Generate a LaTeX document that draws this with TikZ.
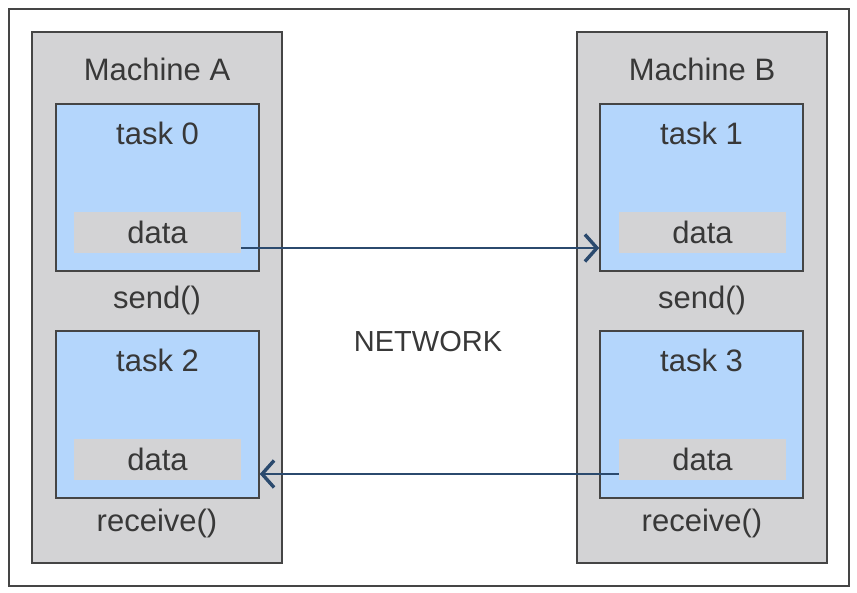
\documentclass[tikz,border=0pt]{standalone}
\usepackage{fontspec}
\setmainfont{Liberation Sans}
\usetikzlibrary{positioning}
\usetikzlibrary{arrows.meta}

\definecolor{boxgray}{HTML}{D3D3D5}
\definecolor{taskblue}{HTML}{B4D6FC}
\definecolor{edgegray}{HTML}{454545}
\definecolor{inkgray}{HTML}{383838}
\definecolor{linkblue}{HTML}{2B4A6E}

\tikzset{
    machine/.style={draw=edgegray, fill=boxgray, line width=1.6pt, minimum width=250pt, minimum height=531pt, inner sep=0pt},
    task/.style={draw=edgegray, fill=taskblue, line width=1.6pt, minimum width=203pt, minimum height=167pt, inner sep=0pt},
    databox/.style={fill=boxgray, minimum width=167pt, minimum height=41pt, inner sep=0pt},
    lbl/.style={text=inkgray, font=\fontsize{31}{36}\selectfont, inner sep=0pt},
    link/.style={draw=linkblue, line width=1.8pt, -{Straight Barb[length=12pt,width=27pt,line width=3.4pt]}}
}

\begin{document}
\begin{tikzpicture}[x=1pt, y=-1pt]
    \useasboundingbox (0,0) rectangle (857,593);
    \draw[edgegray, line width=1.4pt] (9,9) rectangle (849,586);   %frame

    \node[machine] (machA) at (157,297.5) {};   %machine A
    \node[machine] (machB) at (702,297.5) {};   %machine B
    \node[lbl] (machAtxt) at (157,69) {Machine A};
    \node[lbl] (machBtxt) at (702,69) {Machine B};

    \node[task] (task0) at (157.5,187.5) {};
    \node[task] (task1) at (701.5,187.5) {};
    \node[task] (task2) at (157.5,414.5) {};
    \node[task] (task3) at (701.5,414.5) {};

    \node[lbl] (task0txt) at (157.5,133) {task 0};
    \node[lbl] (task1txt) at (701.5,133) {task 1};
    \node[lbl] (task2txt) at (157.5,360) {task 2};
    \node[lbl] (task3txt) at (701.5,360) {task 3};

    \node[databox] (data0) at (157.5,232.5) {};
    \node[databox] (data1) at (702.5,232.5) {};
    \node[databox] (data2) at (157.5,459.5) {};
    \node[databox] (data3) at (702.5,459.5) {};
    \node[lbl] at (data0) {data};
    \node[lbl] at (data1) {data};
    \node[lbl] at (data2) {data};
    \node[lbl] at (data3) {data};

    \node[lbl] (sendA) at (157,300) {send()};
    \node[lbl] (sendB) at (702,300) {send()};
    \node[lbl] (recvA) at (157,523) {receive()};
    \node[lbl] (recvB) at (702,523) {receive()};

    \node[lbl, font=\fontsize{29}{34}\selectfont] (net) at (428,342) {NETWORK};

    \draw[link] ([yshift=-15.5pt]data0.east) -- ([yshift=-15.5pt]data0.east -| task1.west);   %send
    \draw[link] ([yshift=-14.5pt]data3.west) -- ([yshift=-14.5pt]data3.west -| task2.east);   %receive
\end{tikzpicture}
\end{document}
